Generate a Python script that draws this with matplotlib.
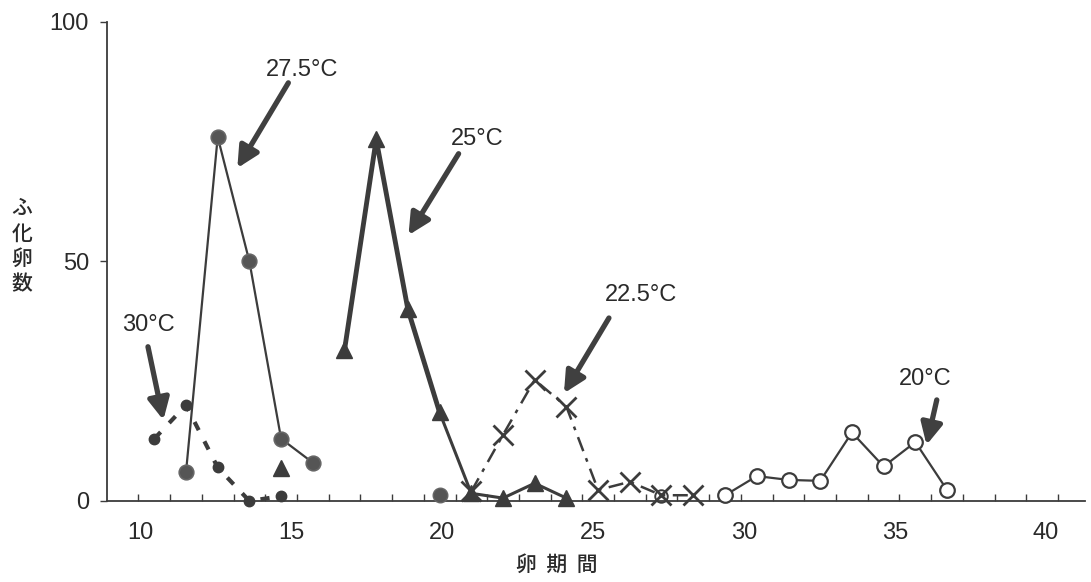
import numpy as np
import matplotlib
matplotlib.use('Agg')
import matplotlib.pyplot as plt
from matplotlib.ticker import FixedLocator

plt.rcParams['font.family'] = ['Liberation Sans Narrow', 'Liberation Sans', 'DejaVu Sans']

# positions (label units)
x_30 = [10.47, 11.52, 12.57, 13.62, 14.67]
y_30 = [13, 20, 7, 0, 1]

x_275 = [11.52, 12.57, 13.62, 14.67, 15.72]
y_275 = [6, 76, 50, 13, 8]
x_275_extra = [19.92]
y_275_extra = [1.3]

x_25 = [16.77, 17.82, 18.87, 19.92, 20.97, 22.02, 23.07, 24.12]
y_25 = [31.5, 75.5, 40, 18.5, 1.6, 0.6, 3.7, 0.6]
x_25_extra = [14.67]
y_25_extra = [6.8]

x_225 = [20.97, 22.02, 23.07, 24.12, 25.17, 26.22, 27.27, 28.33]
y_225 = [2, 13.8, 25.3, 19.7, 2.3, 4, 1.2, 1.2]

x_20 = [29.38, 30.43, 31.48, 32.53, 33.58, 34.63, 35.68, 36.73]
y_20 = [1.2, 5.2, 4.4, 4.2, 14.3, 7.2, 12.3, 2.3]
x_20_extra = [27.27]
y_20_extra = [1.0]

xticks = [10, 15, 20, 25, 30, 35, 40]
yticks = [0, 50, 100]

# labels: (text, text pos, arrow tail, arrow tip)
labels = [
    ('27.5°C', (15.37, 90.0), (14.91, 87.3), (13.22, 69.5)),
    ('25°C', (21.17, 75.6), (20.55, 72.5), (18.89, 55.5)),
    ('22.5°C', (26.6, 43.0), (25.53, 38.2), (24.04, 22.5)),
    ('30°C', (10.27, 36.7), (10.26, 32.2), (10.77, 16.9)),
    ('20°C', (36.0, 25.5), (36.39, 21.1), (36.05, 11.7)),
]

dark = '#3c3c3c'
gray = '#555555'
txt = '#2a2a2a'

fig = plt.figure(figsize=(10.91, 5.82), dpi=100)
ax = fig.add_axes([0.098, 0.1392, 0.8965, 0.823])

# 30C
ax.plot(x_30, y_30, color=dark, lw=3, ls=(0, (2.2, 3)), marker='o', ms=7.5,
        mfc=dark, mec=dark, clip_on=False, zorder=3)
# 27.5C
ax.plot(x_275, y_275, color=dark, lw=1.6, marker='o', ms=10.5,
        mfc=gray, mec='#666666', mew=1.2, clip_on=False, zorder=4)
ax.plot(x_275_extra, y_275_extra, ls='none', marker='o', ms=10.5,
        mfc=gray, mec='#666666', clip_on=False, zorder=4)
# 25C
ax.plot(x_25[:4], y_25[:4], color=dark, lw=3.5, clip_on=False, zorder=3)
ax.plot(x_25[3:], y_25[3:], color=dark, lw=2.2, clip_on=False, zorder=3)
ax.plot(x_25, y_25, ls='none', marker='^', ms=12, mfc=dark, mec=dark,
        clip_on=False, zorder=4)
ax.plot(x_25_extra, y_25_extra, ls='none', marker='^', ms=12, mfc=dark,
        mec=dark, clip_on=False, zorder=4)
# 22.5C
ax.plot(x_225, y_225, color=dark, lw=1.8, ls=(0, (6, 3, 1.5, 3)), marker='x',
        ms=14, mew=2, mec=dark, clip_on=False, zorder=3)
# 20C
ax.plot(x_20, y_20, color=dark, lw=1.6, marker='o', ms=10.5, mfc='white',
        mec=dark, mew=1.6, clip_on=False, zorder=3)
ax.plot(x_20_extra, y_20_extra, ls='none', marker='o', ms=9, mfc='none',
        mec=dark, mew=1.4, clip_on=False, zorder=3)

for text, tpos, tail, tip in labels:
    ax.text(tpos[0], tpos[1], text, ha='center', va='center', fontsize=17,
            color=txt)
    ax.annotate('', xy=tip, xytext=tail,
                arrowprops=dict(arrowstyle='-|>', lw=3.8, color='#404040',
                                mutation_scale=32, shrinkA=0, shrinkB=0))

ax.set_xlim(8.9, 41.3)
ax.set_ylim(0, 100)
ax.set_xticks(xticks)
ax.set_xticklabels([str(v) for v in xticks])
ax.xaxis.set_minor_locator(FixedLocator(np.arange(9.944, 41.3, 1.0504)))
ax.tick_params(axis='x', which='major', length=0, pad=15, labelsize=17,
               labelcolor=txt)
ax.tick_params(axis='x', which='minor', direction='in', length=5, width=1,
               color=dark)
ax.set_yticks(yticks)
ax.tick_params(axis='y', direction='out', length=5, width=1, pad=8,
               labelsize=17, labelcolor=txt, color=dark)

for s in ['top', 'right']:
    ax.spines[s].set_visible(False)
for s in ['left', 'bottom']:
    ax.spines[s].set_color(dark)
    ax.spines[s].set_linewidth(1.3)

cjk = ['Noto Sans CJK JP', 'DejaVu Sans']
fig.text(22 / 1091, 1 - 246 / 582, '\n'.join('ふ化卵数'), ha='center',
         va='center', fontsize=15, linespacing=1.2, family=cjk, color=txt,
         weight='medium')
fig.text(557 / 1091, 1 - 565 / 582, '卵  期  間', ha='center',
         va='center', fontsize=15, family=cjk, color=txt, weight='medium')

fig.savefig('out.png', dpi=100)
